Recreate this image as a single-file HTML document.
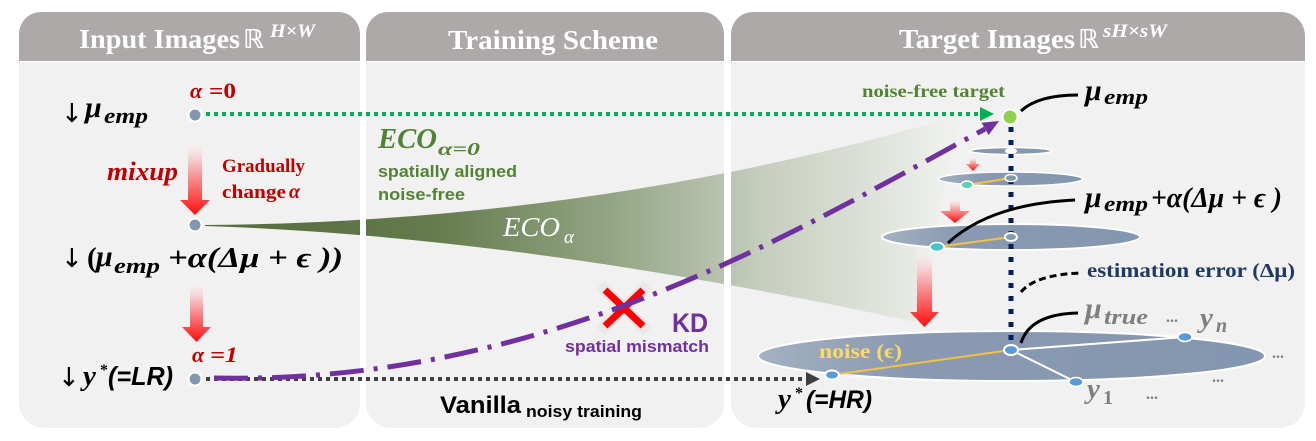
<!DOCTYPE html>
<html><head><meta charset="utf-8"><style>
html,body{margin:0;padding:0;background:#fff;}
svg{display:block;}
.sf{font-family:"Liberation Serif","DejaVu Serif",serif;}
.ss{font-family:"Liberation Sans","DejaVu Sans",sans-serif;}
.ar{font-family:"DejaVu Sans","Liberation Sans",sans-serif;}
</style></head><body>
<svg width="1316" height="441" viewBox="0 0 1316 441" xmlns="http://www.w3.org/2000/svg">
<defs>
 <linearGradient id="wedge" gradientUnits="userSpaceOnUse" x1="205" y1="0" x2="945" y2="0">
  <stop offset="0" stop-color="#556c3d"/>
  <stop offset="0.3" stop-color="#627a4c"/>
  <stop offset="0.55" stop-color="#94a585"/>
  <stop offset="0.75" stop-color="#c5cdbd"/>
  <stop offset="1" stop-color="#eef0ec"/>
 </linearGradient>
 <linearGradient id="redv" x1="0" y1="0" x2="0" y2="1">
  <stop offset="0" stop-color="#ffffff" stop-opacity="0"/>
  <stop offset="0.3" stop-color="#f5cfd2"/>
  <stop offset="1" stop-color="#ff0d0d"/>
 </linearGradient>
 <linearGradient id="ell" x1="0" y1="0" x2="1" y2="0">
  <stop offset="0" stop-color="#a4b1c3"/>
  <stop offset="0.3" stop-color="#8999b1"/>
  <stop offset="1" stop-color="#8497b0"/>
 </linearGradient>
 <clipPath id="bodies">
  <rect x="19" y="62" width="341" height="366"/>
  <rect x="366" y="62" width="358" height="366"/>
  <rect x="731" y="62" width="574" height="366"/>
 </clipPath>
</defs>

<!-- panels -->
<path d="M19,34 A22,22 0 0 1 41,12 H338 A22,22 0 0 1 360,34 V61 H19 Z" fill="#ADA9A8"/>
<path d="M19,62 H360 V403 A25,25 0 0 1 335,428 H44 A25,25 0 0 1 19,403 Z" fill="#F1F1F1"/>
<path d="M366,34 A22,22 0 0 1 388,12 H702 A22,22 0 0 1 724,34 V61 H366 Z" fill="#ADA9A8"/>
<path d="M366,62 H724 V403 A25,25 0 0 1 699,428 H391 A25,25 0 0 1 366,403 Z" fill="#F1F1F1"/>
<path d="M731,34 A22,22 0 0 1 753,12 H1281 A24,24 0 0 1 1305,36 V61 H731 Z" fill="#ADA9A8"/>
<path d="M731,62 H1305 V403 A25,25 0 0 1 1280,428 H756 A25,25 0 0 1 731,403 Z" fill="#F1F1F1"/>

<!-- headers -->
<g class="sf" fill="#fff" font-weight="bold">
 <text x="79" y="48" font-size="27" textLength="161" lengthAdjust="spacingAndGlyphs">Input Images</text>
 <text x="243" y="48" font-size="26" style='font-family:"DejaVu Serif","DejaVu Sans",serif'>ℝ</text>
 <text x="270" y="37" font-size="19" font-style="italic" textLength="45" lengthAdjust="spacingAndGlyphs">H×W</text>
 <text x="448" y="49" font-size="27" textLength="210" lengthAdjust="spacingAndGlyphs">Training Scheme</text>
 <text x="899" y="48" font-size="27" textLength="176" lengthAdjust="spacingAndGlyphs">Target Images</text>
 <text x="1078" y="48" font-size="26" style='font-family:"DejaVu Serif","DejaVu Sans",serif'>ℝ</text>
 <text x="1103" y="37" font-size="19" font-style="italic" textLength="64" lengthAdjust="spacingAndGlyphs">sH×sW</text>
</g>

<!-- wedge -->
<g clip-path="url(#bodies)">
 <path d="M205,225 Q600,222 960,115 L915,322 Q520,236 205,226 Z" fill="url(#wedge)"/>
</g>

<!-- ellipses -->
<ellipse cx="1011.5" cy="356" rx="253.5" ry="25" fill="url(#ell)" stroke="#fff" stroke-width="2"/>
<ellipse cx="1011" cy="237" rx="129" ry="13" fill="url(#ell)" stroke="#fff" stroke-width="2"/>
<ellipse cx="1010.5" cy="179" rx="72" ry="7" fill="url(#ell)" stroke="#fff" stroke-width="1.5"/>
<ellipse cx="1011" cy="151" rx="41" ry="3.5" fill="#8497b0" stroke="#fff" stroke-width="1.5"/>

<!-- blue dotted vertical -->
<line x1="1011" y1="127" x2="1011" y2="346" stroke="#002060" stroke-width="5" stroke-dasharray="5 8"/>

<!-- red arrows -->
<polygon points="188,135 202,135 202,200 210,200 195,215 180,200 188,200" fill="url(#redv)"/>
<polygon points="190,277 203,277 203,327 211,327 196.5,342 182,327 190,327" fill="url(#redv)"/>
<polygon points="970,156 976,156 976,164 980,164 973,171 966,164 970,164" fill="url(#redv)"/>
<polygon points="950,197 960,197 960,211 970,211 955,223 940,211 950,211" fill="url(#redv)"/>
<polygon points="917,245 932,245 932,312 939,312 924.5,327 910,312 917,312" fill="url(#redv)"/>

<!-- green dotted arrow -->
<line x1="206" y1="114" x2="980" y2="114" stroke="#00B050" stroke-width="4" stroke-dasharray="4 4"/>
<polygon points="980,107 994,114 980,121" fill="#00B050"/>

<!-- black dotted arrow -->
<line x1="206" y1="379" x2="806" y2="379" stroke="#404040" stroke-width="4" stroke-dasharray="4 4"/>
<polygon points="806,372 820,379 806,386" fill="#404040"/>

<!-- red X (behind purple) -->
<g stroke-linecap="butt">
 <line x1="600" y1="285" x2="648" y2="331" stroke="#e9e9e9" stroke-width="12"/>
 <line x1="648" y1="285" x2="600" y2="331" stroke="#e9e9e9" stroke-width="12"/>
 <line x1="605" y1="290" x2="643" y2="326" stroke="#FF0000" stroke-width="7"/>
 <line x1="643" y1="290" x2="605" y2="326" stroke="#FF0000" stroke-width="7"/>
</g>

<!-- purple dash-dot -->
<path d="M214,378 C550,385 800,228 985,129" fill="none" stroke="#7030A0" stroke-width="5" stroke-dasharray="34 10 4 10"/>
<polygon points="999,121 988.6,135 981.6,122.8" fill="#7030A0"/>

<!-- lines in ellipses -->
<line x1="967" y1="185" x2="1011" y2="178" stroke="#F5C242" stroke-width="2"/>
<line x1="937" y1="247" x2="1011" y2="237" stroke="#F5C242" stroke-width="2"/>
<line x1="832" y1="375" x2="1011" y2="350" stroke="#F5C242" stroke-width="2"/>
<line x1="1011" y1="350" x2="1185" y2="337" stroke="#fff" stroke-width="2"/>
<line x1="1011" y1="350" x2="1076" y2="382" stroke="#fff" stroke-width="2"/>

<!-- points -->
<ellipse cx="1011" cy="151" rx="6" ry="3" fill="#fff"/>
<ellipse cx="1011" cy="178" rx="6" ry="3.5" fill="#8497b0" stroke="#fff" stroke-width="1.5"/>
<ellipse cx="1011" cy="237" rx="6" ry="4" fill="#8497b0" stroke="#fff" stroke-width="2"/>
<ellipse cx="967" cy="185" rx="6" ry="4" fill="#5fd3b3" stroke="#fff" stroke-width="1.5"/>
<ellipse cx="937" cy="247" rx="7" ry="4.5" fill="#4bc0d0" stroke="#fff" stroke-width="1.5"/>
<ellipse cx="1011" cy="350" rx="7" ry="5" fill="#5b9bd5" stroke="#fff" stroke-width="2"/>
<ellipse cx="832" cy="375" rx="7" ry="4.5" fill="#5b9bd5" stroke="#fff" stroke-width="2"/>
<ellipse cx="1185" cy="337" rx="7" ry="4.5" fill="#5b9bd5" stroke="#fff" stroke-width="1.5"/>
<ellipse cx="1076" cy="382" rx="7" ry="4.5" fill="#5b9bd5" stroke="#fff" stroke-width="1.5"/>
<circle cx="1010" cy="117" r="7.5" fill="#92D050" stroke="#fff" stroke-width="2"/>
<circle cx="195" cy="115" r="6.5" fill="#8497b0" stroke="#fff" stroke-width="2"/>
<circle cx="195" cy="225" r="6.5" fill="#8497b0" stroke="#fff" stroke-width="2"/>
<circle cx="195" cy="379" r="6.5" fill="#8497b0" stroke="#fff" stroke-width="2"/>

<!-- black callout curves -->
<path d="M1021,111 Q1038,95 1078,95" fill="none" stroke="#000" stroke-width="3"/>
<path d="M948,243 Q990,204 1075,200" fill="none" stroke="#000" stroke-width="3"/>
<path d="M1021,292 Q1035,275 1080,273" fill="none" stroke="#000" stroke-width="3" stroke-dasharray="7 4"/>
<path d="M1021,343 Q1030,314 1078,313" fill="none" stroke="#000" stroke-width="3"/>

<!-- left panel text -->
<g font-weight="bold">
 <text x="61" y="122" font-size="26" class="ar" font-weight="normal">↓</text>
 <text x="85" y="117" font-size="30" class="sf" font-style="italic">μ</text>
 <text x="104" y="123" font-size="22" class="sf" font-style="italic" textLength="44" lengthAdjust="spacingAndGlyphs">emp</text>

 <text x="190" y="98" font-size="22" class="sf" fill="#C00000" font-style="italic">α</text>
 <text x="209" y="98" font-size="22" class="sf" fill="#C00000" textLength="27" lengthAdjust="spacingAndGlyphs">=0</text>

 <text x="107" y="180" font-size="26" class="sf" fill="#C00000" font-style="italic" textLength="71" lengthAdjust="spacingAndGlyphs">mixup</text>
 <text x="222" y="172" font-size="19" class="sf" fill="#C00000" textLength="83" lengthAdjust="spacingAndGlyphs">Gradually</text>
 <text x="222" y="198" font-size="19" class="sf" fill="#C00000" textLength="64" lengthAdjust="spacingAndGlyphs">change</text>
 <text x="289" y="198" font-size="20" class="sf" fill="#C00000" font-style="italic">α</text>

 <text x="61" y="267" font-size="26" class="ar" font-weight="normal">↓</text>
 <text x="87" y="267" font-size="29" class="sf">(</text>
 <text x="96" y="266" font-size="30" class="sf" font-style="italic">μ</text>
 <text x="114" y="273" font-size="22" class="sf" font-style="italic" textLength="46" lengthAdjust="spacingAndGlyphs">emp</text>
 <text x="168" y="267" font-size="29" class="sf" font-style="italic" textLength="175" lengthAdjust="spacingAndGlyphs">+α(Δμ + ϵ ))</text>

 <text x="192" y="362" font-size="22" class="sf" fill="#C00000" font-style="italic">α</text>
 <text x="210" y="362" font-size="22" class="sf" fill="#C00000" font-style="italic" textLength="28" lengthAdjust="spacingAndGlyphs">=1</text>

 <text x="58" y="386" font-size="26" class="ar" font-weight="normal">↓</text>
 <text x="83" y="385" font-size="29" class="sf" font-style="italic">y</text>
 <text x="100" y="375" font-size="16" class="sf">*</text>
 <text x="108" y="385" font-size="26" class="ss" font-style="italic" textLength="65" lengthAdjust="spacingAndGlyphs">(=LR)</text>
</g>

<!-- middle panel text -->
<g font-weight="bold">
 <text x="378" y="148" font-size="29" class="sf" font-style="italic" fill="#548235" textLength="59" lengthAdjust="spacingAndGlyphs">ECO</text>
 <text x="438" y="155" font-size="18" class="sf" font-style="italic" fill="#548235" textLength="42" lengthAdjust="spacingAndGlyphs">α=0</text>
 <text x="378" y="177" font-size="17" class="ss" fill="#548235" textLength="139" lengthAdjust="spacingAndGlyphs">spatially aligned</text>
 <text x="378" y="200" font-size="17" class="ss" fill="#548235" textLength="87" lengthAdjust="spacingAndGlyphs">noise-free</text>

 <text x="503" y="236" font-size="27" class="sf" font-style="italic" font-weight="normal" fill="#fff" textLength="57" lengthAdjust="spacingAndGlyphs">ECO</text>
 <text x="564" y="243" font-size="19" class="sf" font-style="italic" font-weight="normal" fill="#fff">α</text>

 <text x="672" y="332" font-size="27" class="ss" fill="#7030A0" textLength="36" lengthAdjust="spacingAndGlyphs">KD</text>
 <text x="565" y="352" font-size="17" class="ss" fill="#7030A0" textLength="144" lengthAdjust="spacingAndGlyphs">spatial mismatch</text>

 <text x="440" y="413" font-size="24" class="ss" fill="#000" textLength="81" lengthAdjust="spacingAndGlyphs">Vanilla</text>
 <text x="526" y="417" font-size="17" class="ss" fill="#000" textLength="116" lengthAdjust="spacingAndGlyphs">noisy training</text>
</g>

<!-- right panel text -->
<g font-weight="bold">
 <text x="862" y="97" font-size="18" class="sf" fill="#548235" textLength="143" lengthAdjust="spacingAndGlyphs">noise-free target</text>

 <text x="1085" y="100" font-size="30" class="sf" font-style="italic">μ</text>
 <text x="1104" y="104" font-size="22" class="sf" font-style="italic" textLength="44" lengthAdjust="spacingAndGlyphs">emp</text>

 <text x="1085" y="207" font-size="30" class="sf" font-style="italic">μ</text>
 <text x="1104" y="211" font-size="22" class="sf" font-style="italic" textLength="44" lengthAdjust="spacingAndGlyphs">emp</text>
 <text x="1151" y="207" font-size="28" class="sf" font-style="italic" textLength="131" lengthAdjust="spacingAndGlyphs">+α(Δμ + ϵ )</text>

 <text x="1087" y="277" font-size="20" class="sf" fill="#1F3864" textLength="208" lengthAdjust="spacingAndGlyphs">estimation error (Δμ)</text>

 <text x="1085" y="318" font-size="30" class="sf" font-style="italic" fill="#7F7F7F">μ</text>
 <text x="1104" y="324" font-size="22" class="sf" font-style="italic" fill="#7F7F7F" textLength="44" lengthAdjust="spacingAndGlyphs">true</text>
 <text x="1166" y="322" font-size="16" class="sf" fill="#7F7F7F">...</text>
 <text x="1200" y="327" font-size="29" class="sf" font-style="italic" fill="#7F7F7F">y</text>
 <text x="1216" y="332" font-size="20" class="sf" font-style="italic" fill="#7F7F7F">n</text>

 <text x="1272" y="358" font-size="16" class="sf" fill="#7F7F7F">...</text>
 <text x="1212" y="382" font-size="16" class="sf" fill="#7F7F7F">...</text>
 <text x="1146" y="399" font-size="16" class="sf" fill="#7F7F7F">...</text>

 <text x="1087" y="398" font-size="29" class="sf" font-style="italic" fill="#7F7F7F">y</text>
 <text x="1103" y="404" font-size="20" class="sf" fill="#7F7F7F">1</text>

 <text x="819" y="358" font-size="20" class="sf" fill="#FFD966" textLength="83" lengthAdjust="spacingAndGlyphs">noise (ϵ)</text>

 <text x="778" y="408" font-size="29" class="sf" font-style="italic">y</text>
 <text x="795" y="398" font-size="16" class="sf">*</text>
 <text x="806" y="408" font-size="25" class="ss" font-style="italic" textLength="66" lengthAdjust="spacingAndGlyphs">(=HR)</text>
</g>
</svg>
</body></html>
